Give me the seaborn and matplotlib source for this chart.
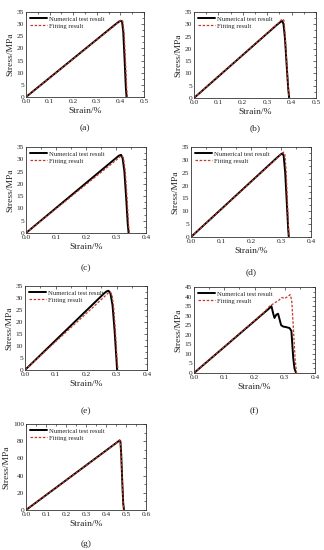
import numpy as np
import pandas as pd
import seaborn as sns
import matplotlib
matplotlib.use("Agg")
import matplotlib.pyplot as plt
from matplotlib.ticker import MultipleLocator, AutoMinorLocator

sns.set_theme(style="white")
plt.rcParams['font.family'] = ['Liberation Serif', 'DejaVu Serif']
plt.rcParams['xtick.direction'] = 'in'
plt.rcParams['ytick.direction'] = 'in'

# ---- data (strain %, stress MPa) ----
a_num_x = [0.0, 0.38, 0.395, 0.402, 0.407, 0.412, 0.418, 0.423, 0.426]
a_num_y = [0.0, 30.0, 31.1, 31.4, 31.0, 27.0, 15.0, 4.0, 0.0]
a_fit_x = [0.0, 0.38, 0.397, 0.405, 0.41, 0.416, 0.422, 0.427, 0.43]
a_fit_y = [0.0, 29.8, 31.3, 31.8, 31.2, 26.0, 14.0, 3.0, 0.0]

b_num_x = [0.0, 0.34, 0.355, 0.362, 0.367, 0.373, 0.38, 0.386, 0.39]
b_num_y = [0.0, 29.8, 31.0, 31.3, 30.0, 24.0, 13.0, 4.0, 0.0]
b_fit_x = [0.0, 0.34, 0.356, 0.364, 0.369, 0.374, 0.381, 0.387, 0.39]
b_fit_y = [0.0, 29.9, 31.6, 32.2, 31.5, 25.0, 13.0, 3.0, 0.0]

c_num_x = [0.0, 0.3, 0.31, 0.317, 0.322, 0.328, 0.334, 0.339, 0.342]
c_num_y = [0.0, 30.5, 31.5, 31.8, 30.5, 25.0, 14.0, 4.0, 0.0]
c_fit_x = [0.0, 0.3, 0.313, 0.32, 0.325, 0.331, 0.337, 0.342, 0.345]
c_fit_y = [0.0, 29.6, 31.0, 31.5, 30.5, 25.0, 14.0, 3.0, 0.0]

d_num_x = [0.0, 0.29, 0.3, 0.305, 0.309, 0.314, 0.319, 0.324, 0.326]
d_num_y = [0.0, 31.2, 32.2, 32.5, 31.5, 25.0, 14.0, 3.0, 0.0]
d_fit_x = [0.0, 0.29, 0.302, 0.309, 0.313, 0.317, 0.321, 0.325, 0.327]
d_fit_y = [0.0, 31.0, 32.5, 33.0, 32.0, 26.0, 15.0, 4.0, 0.0]

e_num_x = [0.0, 0.26, 0.268, 0.274, 0.28, 0.287, 0.294, 0.3, 0.302]
e_num_y = [0.0, 32.0, 32.8, 33.0, 32.0, 27.0, 16.0, 4.0, 0.0]
e_fit_x = [0.0, 0.26, 0.272, 0.279, 0.285, 0.291, 0.297, 0.302, 0.305]
e_fit_y = [0.0, 30.5, 32.0, 32.5, 31.5, 26.0, 15.0, 4.0, 0.0]

f_num_x = [0.0, 0.25, 0.256, 0.262, 0.266, 0.272, 0.278, 0.283, 0.288, 0.295, 0.305, 0.316, 0.322, 0.328, 0.332, 0.335, 0.338]
f_num_y = [0.0, 34.0, 35.0, 31.0, 28.8, 30.5, 31.0, 28.0, 25.0, 24.3, 24.0, 23.5, 22.0, 8.0, 2.5, 1.0, 0.0]
f_fit_x = [0.0, 0.23, 0.25, 0.27, 0.28, 0.29, 0.3, 0.31, 0.318, 0.323, 0.328, 0.334, 0.339]
f_fit_y = [0.0, 31.5, 35.0, 37.0, 38.0, 39.5, 39.0, 40.0, 41.0, 38.0, 25.0, 8.0, 0.0]

g_num_x = [0.0, 0.46, 0.468, 0.472, 0.476, 0.481, 0.486, 0.49]
g_num_y = [0.0, 79.5, 81.0, 80.0, 65.0, 35.0, 8.0, 0.0]
g_fit_x = [0.0, 0.46, 0.468, 0.472, 0.476, 0.481, 0.486, 0.49]
g_fit_y = [0.0, 79.3, 80.8, 80.0, 64.0, 34.0, 7.0, 0.0]

panel_labels = ['(a)', '(b)', '(c)', '(d)', '(e)', '(f)', '(g)']
legend_labels = ['Numerical test result', 'Fitting result']

panels = [
    (a_num_x, a_num_y, a_fit_x, a_fit_y, 0.5, 35, 5),
    (b_num_x, b_num_y, b_fit_x, b_fit_y, 0.5, 35, 5),
    (c_num_x, c_num_y, c_fit_x, c_fit_y, 0.4, 35, 5),
    (d_num_x, d_num_y, d_fit_x, d_fit_y, 0.4, 35, 5),
    (e_num_x, e_num_y, e_fit_x, e_fit_y, 0.4, 35, 5),
    (f_num_x, f_num_y, f_fit_x, f_fit_y, 0.4, 45, 5),
    (g_num_x, g_num_y, g_fit_x, g_fit_y, 0.6, 100, 20),
]

# axes rectangles in pixels: (x0, x1, ytop, ybottom)
W, H = 324, 550
rects = [
    (26, 144, 12, 97),
    (194, 316, 12, 98),
    (26, 146, 147, 233),
    (191, 311, 147, 237),
    (25, 147, 286, 370),
    (194, 315, 287, 373),
    (26, 146, 424, 510),
]
label_y = [128, 128, 268, 272, 411, 411, 544]

fig = plt.figure(figsize=(W / 100, H / 100), dpi=100)
fig.patch.set_facecolor('white')

for i, (p, r) in enumerate(zip(panels, rects)):
    nx, ny, fx, fy, xmax, ymax, ystep = p
    x0, x1, yt, yb = r
    ax = fig.add_axes([x0 / W, 1 - yb / H, (x1 - x0) / W, (yb - yt) / H])
    df_n = pd.DataFrame({'x': nx, 'y': ny})
    df_f = pd.DataFrame({'x': fx, 'y': fy})
    sns.lineplot(data=df_n, x='x', y='y', ax=ax, color='black', lw=1.4,
                 sort=False, label=legend_labels[0], estimator=None)
    sns.lineplot(data=df_f, x='x', y='y', ax=ax, color='#c0392b', lw=0.9,
                 linestyle=(0, (2.0, 1.3)), sort=False, label=legend_labels[1], estimator=None)
    ax.set_xlim(0, xmax)
    ax.set_ylim(0, ymax)
    ax.xaxis.set_major_locator(MultipleLocator(0.1))
    ax.yaxis.set_major_locator(MultipleLocator(ystep))
    ax.xaxis.set_minor_locator(AutoMinorLocator(2))
    ax.yaxis.set_minor_locator(AutoMinorLocator(2))
    ax.tick_params(which='both', direction='in', top=True, right=True,
                   labelsize=5.3, pad=1.5, width=0.5, color='#333333')
    ax.tick_params(which='major', length=2.5)
    ax.tick_params(which='minor', length=1.3)
    ax.xaxis.set_major_formatter(matplotlib.ticker.FormatStrFormatter('%.1f'))
    for s in ax.spines.values():
        s.set_linewidth(0.6)
        s.set_color('#333333')
    ax.set_xlabel('Strain/%', fontsize=6.8, labelpad=2)
    ax.set_ylabel('Stress/MPa', fontsize=6.8, labelpad=1.5)
    leg = ax.legend(loc='upper left', frameon=False, fontsize=4.8,
                    handlelength=2.6, borderaxespad=0.2, labelspacing=0.2,
                    handletextpad=0.3)
    fig.text((x0 + x1) / 2 / W, 1 - label_y[i] / H, panel_labels[i],
             ha='center', va='center', fontsize=6.8)

fig.savefig('out.png', dpi=100, facecolor='white')
